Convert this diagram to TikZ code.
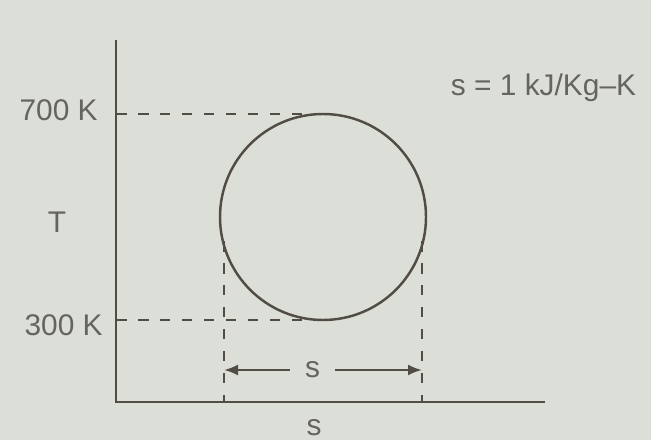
\documentclass[tikz,border=0pt]{standalone}
\usepackage{fontspec}
\setmainfont{Liberation Sans}
\usetikzlibrary{arrows.meta}

\begin{document}
\begin{tikzpicture}

% Colori
\definecolor{colSfondo}{HTML}{DCDFD8}
\definecolor{colLinea}{HTML}{514C46}
\definecolor{colTesto}{HTML}{65645F}

% Raggio del ciclo
\def\r{2.06}

\tikzset{
  asse/.style={colLinea, line width=1.4pt},
  tratteggio/.style={colLinea, line width=1.3pt, dash pattern=on 6pt off 6.5pt},
  etichetta/.style={text=colTesto, font=\fontsize{17}{20}\selectfont, inner sep=0pt}
}

% Sfondo e area
\fill[colSfondo] (0,0) rectangle (13.02,8.8);
\useasboundingbox (0,0) rectangle (13.02,8.8);

% Assi
\coordinate (O) at (2.32,0.76);
\coordinate (Tcima) at (2.32,8.0);
\coordinate (sfine) at (10.9,0.76);
\draw[asse] (Tcima) -- (O) -- (sfine);

% Ciclo
\coordinate (C) at (6.46,4.46);
\draw[asse] (C) circle (\r);

% Linee di riferimento
\coordinate (a700) at (2.32,6.52);
\coordinate (c700) at (6.46,6.52);
\coordinate (a300) at (2.32,2.40);
\coordinate (c300) at (6.46,2.40);
\draw[tratteggio] (a700) -- (c700);
\draw[tratteggio] (a300) -- (c300);

\coordinate (sx) at (4.48,3.98);
\coordinate (dx) at (8.44,3.98);
\coordinate (sxb) at (4.48,0.76);
\coordinate (dxb) at (8.44,0.76);
\draw[tratteggio] (sx) -- (sxb);
\draw[tratteggio] (dx) -- (dxb);

% Quota s
\coordinate (qsx) at (4.48,1.4);
\coordinate (qdx) at (8.44,1.4);
\node[etichetta, minimum width=0.9cm] (qs) at (6.25,1.4) {s};
\draw[colLinea, line width=1.3pt, -{Latex[length=2.8mm,width=2.2mm]}] (qs.west) -- (qsx);
\draw[colLinea, line width=1.3pt, -{Latex[length=2.8mm,width=2.2mm]}] (qs.east) -- (qdx);

% Etichette
\node[etichetta, anchor=east] (l700) at (1.96,6.6) {700 K};
\node[etichetta, anchor=east] (l300) at (2.06,2.3) {300 K};
\node[etichetta] (lT) at (1.14,4.36) {T};
\node[etichetta] (ls) at (6.28,0.24) {s};
\node[etichetta] (nota) at (10.87,7.04) {s = 1 kJ/Kg–K};

\end{tikzpicture}
\end{document}
